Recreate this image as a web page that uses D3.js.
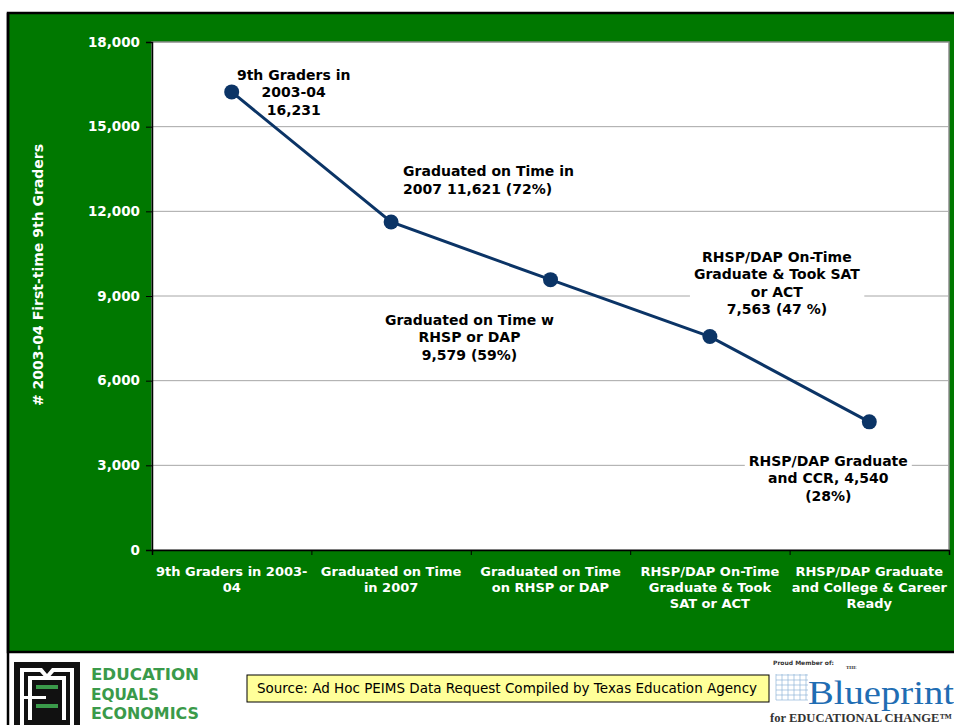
<!DOCTYPE html>
<html>
<head>
<meta charset="utf-8">
<script src="https://cdn.jsdelivr.net/npm/d3@7"></script>
<style>
  html, body { margin: 0; padding: 0; background: #ffffff; }
  svg { display: block; }
</style>
</head>
<body>
<div id="chart"></div>
<script>
// ---------- data ----------
const categories = [
  ["9th Graders in 2003-", "04"],
  ["Graduated on Time", "in 2007"],
  ["Graduated on Time", "on RHSP or DAP"],
  ["RHSP/DAP On-Time", "Graduate & Took", "SAT or ACT"],
  ["RHSP/DAP Graduate", "and College & Career", "Ready"]
];
const values = [16231, 11621, 9579, 7563, 4540];
const yTicks = [0, 3000, 6000, 9000, 12000, 15000, 18000];
const pointLabels = [
  ["9th Graders in", "2003-04", "16,231"],
  ["Graduated on Time in", "2007 11,621 (72%)"],
  ["Graduated on Time w", "RHSP or DAP", "9,579 (59%)"],
  ["RHSP/DAP On-Time", "Graduate & Took SAT", "or ACT", "7,563 (47 %)"],
  ["RHSP/DAP Graduate", "and CCR, 4,540", "(28%)"]
];
// label anchor offsets relative to each point (dx, dy of first line baseline), and alignment
const labelOffsets = [[62, -12], [12, -46], [-81, 45], [67, -75], [-41, 44]];
const labelAnchors = ["middle", "start", "middle", "middle", "middle"];
const yTitle = "# 2003-04 First-time 9th Graders";
const sourceText = "Source: Ad Hoc PEIMS Data Request Compiled by Texas Education Agency";

// ---------- layout ----------
const W = 954, H = 725;
const plot = { left: 152, top: 42, right: 949, bottom: 550 };
const green = "#007800";
const navy = "#0b3466";
const font = "Verdana, 'DejaVu Sans', sans-serif";

const svg = d3.select("#chart").append("svg").attr("width", W).attr("height", H);

// green frame
svg.append("rect").attr("x", 8).attr("y", 13).attr("width", W).attr("height", 639)
  .attr("fill", green).attr("stroke", "#000").attr("stroke-width", 2.5);
svg.append("line").attr("x1", 8).attr("x2", 8).attr("y1", 13).attr("y2", H)
  .attr("stroke", "#000").attr("stroke-width", 2.5);

const x = d3.scaleBand().domain(d3.range(categories.length))
  .range([plot.left, plot.right]).padding(0);
const y = d3.scaleLinear().domain([0, 18000]).range([plot.bottom, plot.top]);

// plot area
svg.append("rect").attr("x", plot.left).attr("y", plot.top)
  .attr("width", plot.right - plot.left).attr("height", plot.bottom - plot.top)
  .attr("fill", "#fff").attr("stroke", "#8c8c8c").attr("stroke-width", 1.5);

// grid lines
svg.append("g").selectAll("line").data(yTicks.filter(d => d > 0 && d < 18000)).join("line")
  .attr("x1", plot.left).attr("x2", plot.right)
  .attr("y1", d => y(d)).attr("y2", d => y(d))
  .attr("stroke", "#a6a6a6").attr("stroke-width", 1);

// y axis
const yAxis = svg.append("g").attr("transform", `translate(${plot.left},0)`)
  .call(d3.axisLeft(y).tickValues(yTicks).tickSize(6).tickPadding(6).tickFormat(d3.format(",")));
yAxis.select(".domain").attr("stroke", "#000").attr("stroke-width", 1.5);
yAxis.selectAll(".tick line").attr("stroke", "#000");
yAxis.selectAll("text").attr("fill", "#fff").attr("font-family", font)
  .attr("font-size", 13.5).attr("font-weight", "bold");

// x axis
const xAxis = svg.append("g").attr("transform", `translate(0,${plot.bottom})`)
  .call(d3.axisBottom(d3.scaleLinear().domain([0, categories.length]).range([plot.left, plot.right]))
    .tickValues(d3.range(categories.length + 1)).tickSize(5).tickFormat(""));
xAxis.select(".domain").attr("stroke", "#000").attr("stroke-width", 1.5);
xAxis.selectAll(".tick line").attr("stroke", "#000");

const xl = svg.append("g").selectAll("text").data(categories).join("text")
  .attr("x", (d, i) => x(i) + x.bandwidth() / 2)
  .attr("y", plot.bottom + 26)
  .attr("text-anchor", "middle").attr("fill", "#fff")
  .attr("font-family", font).attr("font-size", 13).attr("font-weight", "bold");
xl.selectAll("tspan").data(d => d).join("tspan")
  .attr("x", function () { return d3.select(this.parentNode).attr("x"); })
  .attr("dy", (d, i) => i === 0 ? 0 : 16).text(d => d);

// y title
svg.append("text")
  .attr("transform", `translate(43,275) rotate(-90)`)
  .attr("text-anchor", "middle").attr("fill", "#fff")
  .attr("font-family", font).attr("font-size", 14).attr("font-weight", "bold")
  .text(yTitle);

// data labels (with white background)
const labelG = svg.append("g");
pointLabels.forEach((lines, i) => {
  const cx = x(i) + x.bandwidth() / 2 + labelOffsets[i][0];
  const cy = y(values[i]) + labelOffsets[i][1];
  const g = labelG.append("g");
  const t = g.append("text").attr("text-anchor", labelAnchors[i])
    .attr("font-family", font).attr("font-size", 14).attr("font-weight", "bold").attr("fill", "#000");
  lines.forEach((ln, j) => t.append("tspan").attr("x", cx).attr("y", cy + j * 17.5).text(ln));
  const bb = t.node().getBBox();
  g.insert("rect", "text").attr("x", bb.x - 4).attr("y", bb.y - 1)
    .attr("width", bb.width + 8).attr("height", bb.height + 2).attr("fill", "#fff");
});

// line
const line = d3.line().x((d, i) => x(i) + x.bandwidth() / 2).y(d => y(d));
svg.append("path").datum(values).attr("d", line)
  .attr("fill", "none").attr("stroke", navy).attr("stroke-width", 3);
svg.append("g").selectAll("circle").data(values).join("circle")
  .attr("cx", (d, i) => x(i) + x.bandwidth() / 2).attr("cy", d => y(d))
  .attr("r", 7.5).attr("fill", navy);

// source box
const src = svg.append("g");
src.append("rect").attr("x", 247).attr("y", 675).attr("width", 522).attr("height", 27)
  .attr("fill", "#ffff99").attr("stroke", "#000").attr("stroke-width", 1);
src.append("text").attr("x", 507).attr("y", 693).attr("text-anchor", "middle")
  .attr("font-family", font).attr("font-size", 13.5).attr("fill", "#000").text(sourceText);

// ---------- left logo ----------
const logo = svg.append("g");
logo.append("rect").attr("x", 14).attr("y", 662).attr("width", 66).attr("height", 63).attr("fill", "#111");
logo.append("path").attr("d", "M20,668 H42 L47,674 L52,668 H74 V725 H70 V672 H54 L47,680 L40,672 H24 V725 H20 Z")
  .attr("fill", "#fff");
logo.append("rect").attr("x", 28).attr("y", 676).attr("width", 38).attr("height", 44).attr("fill", "#fff");
logo.append("rect").attr("x", 32).attr("y", 680).attr("width", 30).attr("height", 40).attr("fill", "#111");
logo.append("rect").attr("x", 36).attr("y", 685).attr("width", 22).attr("height", 4).attr("fill", "#3a9a4a");
logo.append("rect").attr("x", 36).attr("y", 704).attr("width", 22).attr("height", 4).attr("fill", "#3a9a4a");
logo.append("rect").attr("x", 24).attr("y", 696).attr("width", 22).attr("height", 3).attr("fill", "#fff");
const eee = logo.append("text").attr("font-family", "'Liberation Sans Narrow', 'DejaVu Sans Condensed', sans-serif")
  .attr("font-size", 16.5).attr("font-weight", "bold").attr("fill", "#3a9a4a");
["EDUCATION", "EQUALS", "ECONOMICS"].forEach((s, i) =>
  eee.append("tspan").attr("x", 91).attr("y", 680 + i * 19.5)
    .attr("textLength", i === 1 ? 68 : 108).attr("lengthAdjust", "spacingAndGlyphs").text(s));

// ---------- right logo ----------
const bp = svg.append("g");
bp.append("text").attr("x", 773).attr("y", 665).attr("font-family", font).attr("font-size", 6)
  .attr("font-weight", "bold").attr("fill", "#333").text("Proud Member of:");
const grid = bp.append("g").attr("stroke", "#8fb4d8").attr("stroke-width", 0.7);
d3.range(0, 6).forEach(k => {
  grid.append("line").attr("x1", 776 + k * 6).attr("x2", 776 + k * 6).attr("y1", 674).attr("y2", 700);
  grid.append("line").attr("x1", 776).attr("x2", 808).attr("y1", 675 + k * 5).attr("y2", 675 + k * 5);
});
bp.append("text").attr("x", 846).attr("y", 669).attr("font-family", "'Liberation Serif', serif")
  .attr("font-size", 5).attr("font-weight", "bold").attr("fill", "#333").text("THE");
bp.append("text").attr("x", 808).attr("y", 704).attr("font-family", "'Liberation Serif', 'DejaVu Serif', serif")
  .attr("font-size", 34).attr("fill", "#1f6db3").attr("textLength", 146).attr("lengthAdjust", "spacingAndGlyphs")
  .text("Blueprint");
bp.append("text").attr("x", 770).attr("y", 722).attr("font-family", "'Liberation Serif', 'DejaVu Serif', serif")
  .attr("font-size", 12).attr("font-weight", "bold").attr("fill", "#333").attr("textLength", 182)
  .attr("lengthAdjust", "spacingAndGlyphs")
  .text("for EDUCATIONAL CHANGE™");
</script>
</body>
</html>
